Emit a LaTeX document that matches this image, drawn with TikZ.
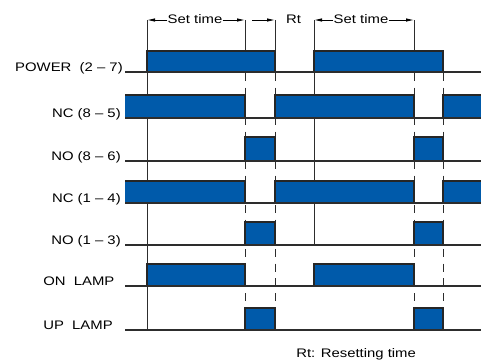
\documentclass[tikz,border=0pt]{standalone}
\usepackage{fontspec}
\setmainfont{Liberation Sans}[FakeStretch=1.2]
\usetikzlibrary{arrows.meta}
\definecolor{pulseblue}{RGB}{0,90,170}
\definecolor{inkgray}{RGB}{45,45,45}

\tikzset{
  lbl/.style={font=\fontsize{9.3}{11}\selectfont,inner sep=0pt},
  baseln/.style={draw=inkgray,line width=1pt},
  guide/.style={draw=inkgray,line width=0.75pt},
  dguide/.style={guide,dash pattern=on 6pt off 5pt},
  pulse/.style={fill=pulseblue},
  edge/.style={draw=black!85,line width=1.5pt},
  span/.style={-{Latex[length=6pt,width=2.6pt]},line width=0.6pt}
}

\begin{document}
\begin{tikzpicture}[x=0.75pt,y=-0.75pt]
\useasboundingbox (0,0) rectangle (481,361);

% time marks on top
\coordinate (a1) at (147,20);
\coordinate (a2) at (245,20);
\coordinate (a3) at (275,20);
\coordinate (a4) at (314,20);
\coordinate (a5) at (414,20);
\coordinate (m1) at (252,20);
\node[lbl,anchor=base] (st1) at (195,23.5) {Set time};
\node[lbl,anchor=base] (rt) at (293.5,23.5) {Rt};
\node[lbl,anchor=base] (st2) at (361,23.5) {Set time};
\draw[span] (st1.west |- a1) -- (a1);
\draw[span] (st1.east |- a2) -- (a2);
\draw[span] (m1) -- (a3);
\draw[span] (st2.west |- a4) -- (a4);
\draw[span] (st2.east |- a5) -- (a5);

% guide lines
\draw[guide] (a1) -- (147,330);
\draw[guide] (a4) -- (314,245);
\draw[guide] (a2) -- (245,72);
\draw[guide] (a3) -- (275,72);
\draw[guide] (a5) -- (414,72);
\draw[dguide] (245,73) -- (245,330);
\draw[dguide] (275,73) -- (275,330);
\draw[dguide] (414,73) -- (414,330);
\draw[dguide] (443,73) -- (443,330);

% signal labels
\node[lbl,anchor=base east] (power) at (123,71) {POWER\ \ (2 -- 7)};
\node[lbl,anchor=base east] (nc85) at (121,117) {NC (8 -- 5)};
\node[lbl,anchor=base east] (no86) at (121,160) {NO (8 -- 6)};
\node[lbl,anchor=base east] (nc14) at (121,202) {NC (1 -- 4)};
\node[lbl,anchor=base east] (no13) at (121,244) {NO (1 -- 3)};
\node[lbl,anchor=base west] (onlamp) at (43,285) {ON\ \ LAMP};
\node[lbl,anchor=base west] (uplamp) at (43,329) {UP\ \ LAMP};
\node[lbl,anchor=base west] (note) at (296,357) {Rt: Resetting time};

% POWER
\foreach \a/\b in {147/275,314/443}{
  \fill[pulse] (\a,51) rectangle (\b,72);
  \draw[edge] (\a,72) |- (\b,51) -- (\b,72);
}
% NC (8-5)
\fill[pulse] (125,95) rectangle (245,118);
\draw[edge] (125,95) -- (245,95) -- (245,118);
\fill[pulse] (275,95) rectangle (414,118);
\draw[edge] (275,118) |- (414,95) -- (414,118);
\fill[pulse] (443,95) rectangle (481,118);
\draw[edge] (443,118) |- (481,95);
% NO (8-6)
\foreach \a/\b in {245/275,414/443}{
  \fill[pulse] (\a,137) rectangle (\b,161);
  \draw[edge] (\a,161) |- (\b,137) -- (\b,161);
}
% NC (1-4)
\fill[pulse] (125,181) rectangle (245,203);
\draw[edge] (125,181) -- (245,181) -- (245,203);
\fill[pulse] (275,181) rectangle (414,203);
\draw[edge] (275,203) |- (414,181) -- (414,203);
\fill[pulse] (443,181) rectangle (481,203);
\draw[edge] (443,203) |- (481,181);
% NO (1-3)
\foreach \a/\b in {245/275,414/443}{
  \fill[pulse] (\a,222) rectangle (\b,245);
  \draw[edge] (\a,245) |- (\b,222) -- (\b,245);
}
% ON LAMP
\foreach \a/\b in {147/245,314/414}{
  \fill[pulse] (\a,264) rectangle (\b,286);
  \draw[edge] (\a,286) |- (\b,264) -- (\b,286);
}
% UP LAMP
\foreach \a/\b in {245/275,414/443}{
  \fill[pulse] (\a,308) rectangle (\b,330);
  \draw[edge] (\a,330) |- (\b,308) -- (\b,330);
}

% base lines
\foreach \y in {72,118,161,203,245,286,330}
  \draw[baseln] (125,\y) -- (481,\y);
\end{tikzpicture}
\end{document}
